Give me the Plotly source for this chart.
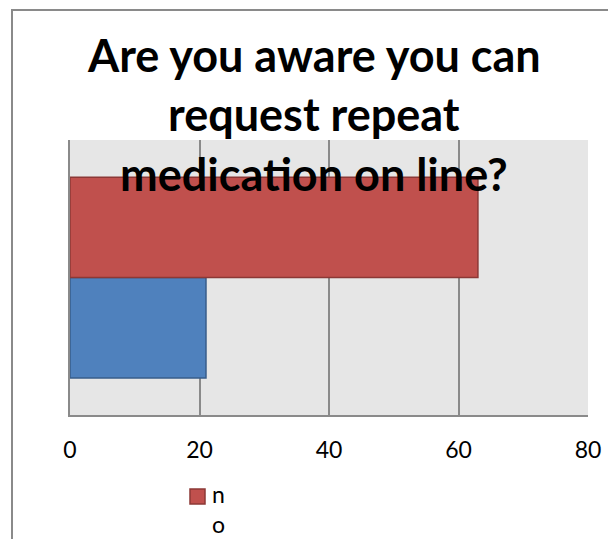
import plotly.graph_objects as go

# ---- data ----
categories = ["Total"]
series_names = ["yes", "no"]
yes_values = [21]
no_values = [63]
x_tick_values = [0, 20, 40, 60, 80]
x_tick_labels = ["0", "20", "40", "60", "80"]
title_lines = ["Are you aware you can", "request repeat", "medication on line?"]

FONT = "Lato"
W, H = 616, 539
OFF = 8  # default body margin of the page
# desired page positions of the plot area
PL, PR, PT, PB = 70, 588, 140, 415
L, T = PL - OFF, PT - OFF
R = W - (PR - OFF)
B = H - (PB - OFF)
PW, PH = PR - PL, PB - PT

RED, RED_EDGE = "#C0504D", "#8C3836"
BLUE, BLUE_EDGE = "#4F81BD", "#385D8A"

def px_x(px):
    return (px - PL) / PW

def px_y(py):
    return (PB - py) / PH

fig = go.Figure()
fig.add_trace(go.Bar(
    y=categories, x=yes_values, orientation="h", name=series_names[0],
    marker=dict(color=BLUE, line=dict(color=BLUE_EDGE, width=1.5)),
))
fig.add_trace(go.Bar(
    y=categories, x=no_values, orientation="h", name=series_names[1],
    marker=dict(color=RED, line=dict(color=RED_EDGE, width=1.5)),
))

fig.update_layout(
    width=W, height=H,
    margin=dict(l=L, r=R, t=T, b=B, pad=0),
    paper_bgcolor="white",
    plot_bgcolor="#E6E6E6",
    barmode="group",
    bargap=0.27,
    bargroupgap=0,
    showlegend=False,
    font=dict(family=FONT, color="black", size=23),
    xaxis=dict(
        range=[0, 80], tickvals=x_tick_values, ticktext=x_tick_labels,
        showgrid=True, gridcolor="#8A8A8A", gridwidth=2,
        showline=True, linecolor="#8A8A8A", linewidth=2,
        ticks="", zeroline=False, ticklabelstandoff=13,
        tickfont=dict(family=FONT, size=23, color="black"),
        fixedrange=True, automargin=False,
    ),
    yaxis=dict(
        showticklabels=False, showgrid=False, ticks="",
        showline=True, linecolor="#8A8A8A", linewidth=2,
        zeroline=False, range=[-0.5, 0.5], fixedrange=True,
        automargin=False,
    ),
)

# chart-area border (extends beyond the visible window on right and bottom)
fig.add_shape(type="rect", xref="paper", yref="paper",
              x0=px_x(12), y0=px_y(10), x1=px_x(700), y1=px_y(700),
              line=dict(color="#8A8A8A", width=2), fillcolor="rgba(0,0,0,0)",
              layer="below")

# legend (only the "no" entry is visible; the label wraps inside its narrow box)
fig.add_shape(type="rect", xref="paper", yref="paper",
              x0=px_x(190), y0=px_y(489), x1=px_x(205), y1=px_y(504),
              line=dict(color=RED_EDGE, width=1.5), fillcolor=RED)
legend_label = "<br>".join(series_names[1])
fig.add_annotation(
    text=legend_label, xref="paper", yref="paper",
    x=px_x(210), y=px_y(478), xanchor="left", yanchor="top", align="left",
    showarrow=False, font=dict(family=FONT, size=23, color="black"),
)

# title lines
centers = [55.5, 114.5, 173.5]
for line, cy in zip(title_lines, centers):
    fig.add_annotation(
        text="<b>" + line + "</b>", xref="paper", yref="paper",
        x=px_x(314), y=px_y(cy), xanchor="center", yanchor="middle",
        showarrow=False, font=dict(family=FONT, size=45, color="black"),
    )

fig.write_html("out.html")
